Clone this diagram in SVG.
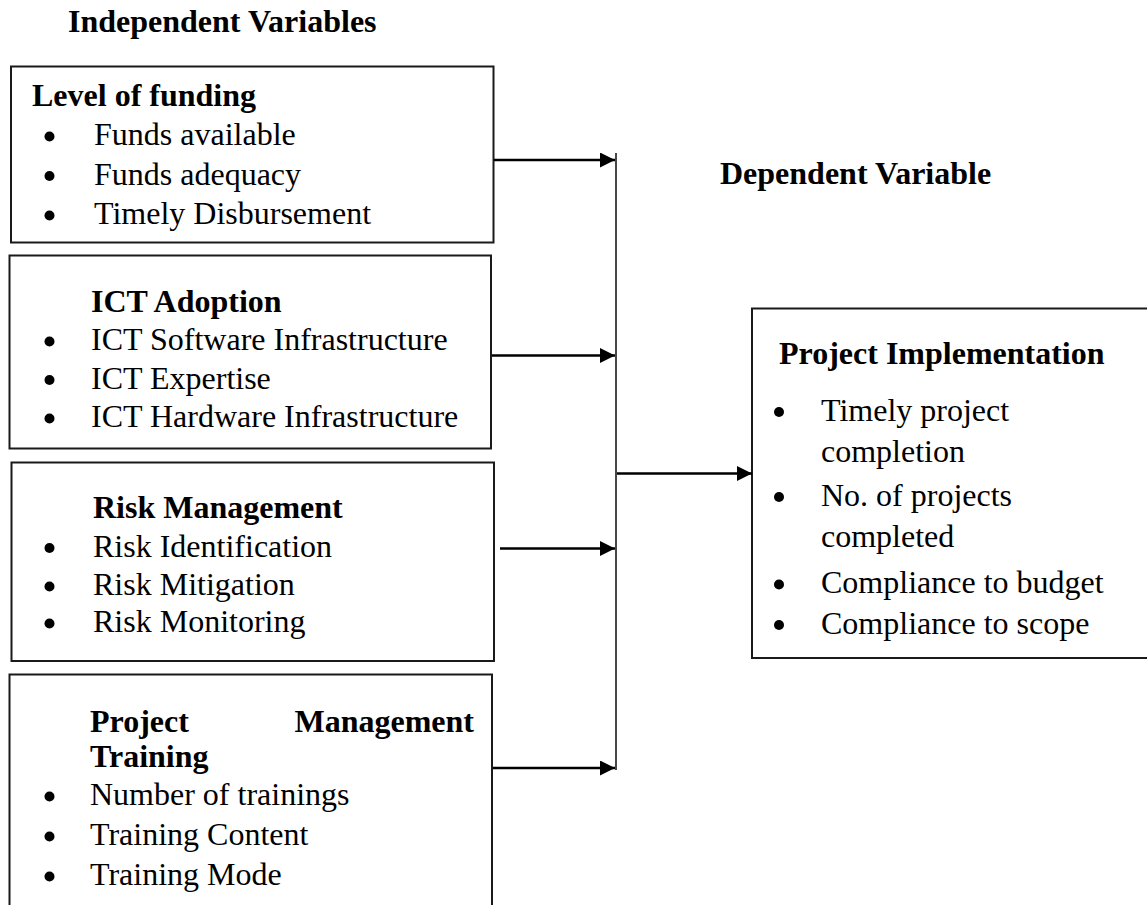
<svg xmlns="http://www.w3.org/2000/svg" width="1147" height="905" viewBox="0 0 1147 905">
  <style>
    .t { font-family: "Liberation Serif", "Times New Roman", serif; font-size: 32px; fill: #000; }
    .b { font-weight: bold; }
    .box { fill: #fff; stroke: #1a1a1a; stroke-width: 2; }
    .dot { fill: #000; }
    .arrow { fill: none; stroke: #000; stroke-width: 2.5; marker-end: url(#head); }
    .bus { fill: none; stroke: #1a1a1a; stroke-width: 1.6; }
  </style>
  <defs>
    <marker id="head" markerUnits="userSpaceOnUse" markerWidth="16" markerHeight="15" refX="15" refY="7.5" orient="auto">
      <path d="M0,0 L15,7.5 L0,15 Z" fill="#000"/>
    </marker>
  </defs>

  <rect width="1147" height="905" fill="#fff"/>

  <!-- section headings -->
  <text class="t b" x="68" y="32">Independent Variables</text>
  <text class="t b" x="720" y="183.5">Dependent Variable</text>

  <!-- independent variable: funding -->
  <g id="funding">
    <rect class="box" x="11" y="66.5" width="482.5" height="176"/>
    <text class="t b" x="32" y="105.5">Level of funding</text>
    <circle class="dot" cx="49.5" cy="136.5" r="5"/>
    <text class="t" x="94" y="145">Funds available</text>
    <circle class="dot" cx="49.5" cy="176" r="5"/>
    <text class="t" x="94" y="184.5">Funds adequacy</text>
    <circle class="dot" cx="49.5" cy="215.5" r="5"/>
    <text class="t" x="94" y="224">Timely Disbursement</text>
  </g>

  <!-- independent variable: ICT -->
  <g id="ict">
    <rect class="box" x="9.5" y="255.5" width="481.5" height="193"/>
    <text class="t b" x="91" y="311.5">ICT Adoption</text>
    <circle class="dot" cx="49.5" cy="341.5" r="5"/>
    <text class="t" x="91" y="350">ICT Software Infrastructure</text>
    <circle class="dot" cx="49.5" cy="380" r="5"/>
    <text class="t" x="91" y="388.5">ICT Expertise</text>
    <circle class="dot" cx="49.5" cy="418.5" r="5"/>
    <text class="t" x="91" y="427">ICT Hardware Infrastructure</text>
  </g>

  <!-- independent variable: risk -->
  <g id="risk">
    <rect class="box" x="11.5" y="462.5" width="482.5" height="198.5"/>
    <text class="t b" x="93" y="518">Risk Management</text>
    <circle class="dot" cx="49.5" cy="548" r="5"/>
    <text class="t" x="93" y="556.5">Risk Identification</text>
    <circle class="dot" cx="49.5" cy="586.5" r="5"/>
    <text class="t" x="93" y="595">Risk Mitigation</text>
    <circle class="dot" cx="49.5" cy="623.5" r="5"/>
    <text class="t" x="93" y="632">Risk Monitoring</text>
  </g>

  <!-- independent variable: training -->
  <g id="training">
    <rect class="box" x="9.5" y="674.5" width="482.5" height="260"/>
    <text class="t b" x="90" y="731.5">Project</text>
    <text class="t b" x="474" y="731.5" text-anchor="end">Management</text>
    <text class="t b" x="90" y="766.5">Training</text>
    <circle class="dot" cx="49.5" cy="796.5" r="5"/>
    <text class="t" x="90" y="805">Number of trainings</text>
    <circle class="dot" cx="49.5" cy="836.5" r="5"/>
    <text class="t" x="90" y="845">Training Content</text>
    <circle class="dot" cx="49.5" cy="876.5" r="5"/>
    <text class="t" x="90" y="885">Training Mode</text>
  </g>

  <!-- dependent variable -->
  <g id="implementation">
    <rect class="box" x="752" y="308.5" width="420" height="349.5"/>
    <text class="t b" x="779" y="364">Project Implementation</text>
    <circle class="dot" cx="779" cy="412" r="5"/>
    <text class="t" x="821" y="420.5">Timely project</text>
    <text class="t" x="821" y="461.5">completion</text>
    <circle class="dot" cx="779" cy="497" r="5"/>
    <text class="t" x="821" y="505.5">No. of projects</text>
    <text class="t" x="821" y="547">completed</text>
    <circle class="dot" cx="779" cy="584.5" r="5"/>
    <text class="t" x="821" y="593">Compliance to budget</text>
    <circle class="dot" cx="779" cy="625" r="5"/>
    <text class="t" x="821" y="633.5">Compliance to scope</text>
  </g>

  <!-- connectors -->
  <g id="connectors">
    <path class="bus" d="M616,153 V770"/>
    <path class="arrow" d="M494,160 H615"/>
    <path class="arrow" d="M492,355.5 H615"/>
    <path class="arrow" d="M500,548.5 H615"/>
    <path class="arrow" d="M493,768 H615"/>
    <path class="arrow" d="M617,473.5 H752"/>
  </g>
</svg>
